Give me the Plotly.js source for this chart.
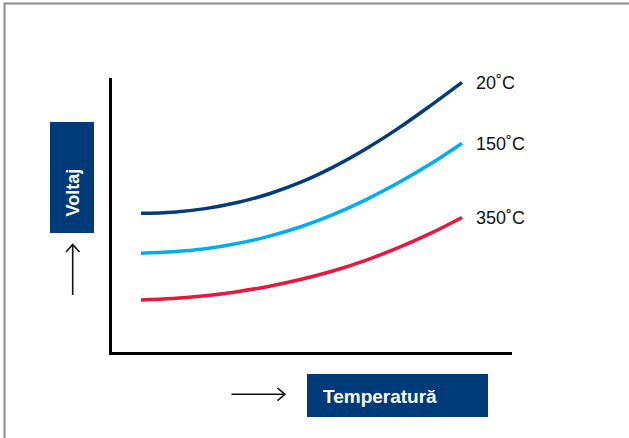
<!DOCTYPE html>
<html>
<head>
<meta charset="utf-8">
<script src="https://cdn.plot.ly/plotly-3.0.1.min.js"></script>
<style>
  html, body { margin: 0; padding: 0; background: #fff; }
  #chart { width: 629px; height: 438px; }
</style>
</head>
<body>
<div id="chart"></div>
<script>
// Relative temperature steps along the curve (arbitrary units)
const temperature = [0, 1, 2, 3, 4, 5, 6, 7, 8, 9, 10];

// Voltage curves for each operating temperature (arbitrary units)
const seriesNames = ['20˚C', '150˚C', '350˚C'];
const voltage20 = [5.08, 5.12, 5.25, 5.47, 5.79, 6.22, 6.77, 7.42, 8.16, 8.98, 9.84];
const voltage150 = [3.63, 3.68, 3.79, 3.98, 4.25, 4.60, 5.04, 5.57, 6.18, 6.86, 7.63];
const voltage350 = [1.93, 1.98, 2.08, 2.23, 2.43, 2.68, 2.99, 3.37, 3.82, 4.34, 4.93];

const xAxisLabel = 'Temperatură';
const yAxisLabel = 'Voltaj';

const seriesColors = ['#033d78', '#00aeef', '#e8173d'];
const boxColor = '#003b79';
const fontFamily = '"Liberation Sans", Arial, Helvetica, sans-serif';

// Page geometry (pixels) and helpers that turn pixel positions into paper coordinates
const W = 629, H = 438;
const M = { l: 112, r: 117, t: 78, b: 86 };
const PW = W - M.l - M.r, PH = H - M.t - M.b;
const fx = x => (x - M.l) / PW;
const fy = y => (H - M.b - y) / PH;

const allSeries = [voltage20, voltage150, voltage350];

const traces = allSeries.map((vals, i) => ({
  type: 'scatter',
  mode: 'lines',
  x: temperature,
  y: vals,
  name: seriesNames[i],
  line: { color: seriesColors[i], width: 3.5, shape: 'spline', smoothing: 1 },
  hoverinfo: 'skip'
}));

// Curve-end labels, anchored to the last point of each series
const endLabels = allSeries.map((vals, i) => ({
  x: temperature[temperature.length - 1],
  y: vals[vals.length - 1],
  xref: 'x', yref: 'y',
  text: seriesNames[i],
  showarrow: false,
  xanchor: 'left', yanchor: 'middle',
  xshift: 12, yshift: -1,
  font: { family: fontFamily, size: 18, color: '#111' }
}));

const boxLabels = [
  {
    xref: 'paper', yref: 'paper',
    x: fx(72), y: fy(192.5),
    text: '<b>' + yAxisLabel + '</b>',
    textangle: -90,
    showarrow: false,
    xanchor: 'center', yanchor: 'middle',
    font: { family: fontFamily, size: 18, color: '#ffffff' }
  },
  {
    xref: 'paper', yref: 'paper',
    x: fx(321), y: fy(396),
    text: '<b>' + xAxisLabel + '</b>',
    showarrow: false,
    xanchor: 'left', yanchor: 'middle',
    font: { family: fontFamily, size: 19, color: '#ffffff' }
  }
];

const shapes = [
  // outer frame
  {
    type: 'rect', xref: 'paper', yref: 'paper',
    x0: fx(4.5), x1: fx(660), y0: fy(470), y1: fy(3.5),
    line: { color: '#8c8c8c', width: 2 }, fillcolor: 'rgba(0,0,0,0)', layer: 'below'
  },
  // label boxes
  {
    type: 'rect', xref: 'paper', yref: 'paper',
    x0: fx(50), x1: fx(94), y0: fy(233), y1: fy(122),
    line: { width: 0 }, fillcolor: boxColor
  },
  {
    type: 'rect', xref: 'paper', yref: 'paper',
    x0: fx(307), x1: fx(488), y0: fy(417), y1: fy(374),
    line: { width: 0 }, fillcolor: boxColor
  },
  // direction arrows
  {
    type: 'path', xref: 'paper', yref: 'paper',
    path: `M ${fx(72.7)},${fy(295)} L ${fx(72.7)},${fy(244.5)} ` +
          `M ${fx(66)},${fy(252)} L ${fx(72.7)},${fy(244.5)} L ${fx(79.5)},${fy(252)}`,
    line: { color: '#111', width: 1.6 }
  },
  {
    type: 'path', xref: 'paper', yref: 'paper',
    path: `M ${fx(231.5)},${fy(394.3)} L ${fx(285)},${fy(394.3)} ` +
          `M ${fx(277.5)},${fy(388)} L ${fx(285)},${fy(394.3)} L ${fx(277.5)},${fy(400.6)}`,
    line: { color: '#111', width: 1.6 }
  }
];

// x: 0 at px 141, 10 at px 462 ; y: 0 at px 353, 10 at px 78
const xScale = (462 - 141) / 10;
const yScale = (353 - 78) / 10;
const xRange = [(M.l - 141) / xScale, (W - M.r - 141) / xScale];
const yRange = [(353 - (H - M.b)) / yScale, (353 - M.t) / yScale];

const layout = {
  width: W, height: H,
  margin: M,
  paper_bgcolor: '#ffffff',
  plot_bgcolor: '#ffffff',
  showlegend: false,
  xaxis: {
    range: xRange, showgrid: false, zeroline: false, showticklabels: false, ticks: '',
    showline: true, linecolor: '#000', linewidth: 3, fixedrange: true
  },
  yaxis: {
    range: yRange, showgrid: false, zeroline: false, showticklabels: false, ticks: '',
    showline: true, linecolor: '#000', linewidth: 3, fixedrange: true
  },
  shapes: shapes,
  annotations: endLabels.concat(boxLabels)
};

Plotly.newPlot('chart', traces, layout, { staticPlot: true, displayModeBar: false });
</script>
</body>
</html>
